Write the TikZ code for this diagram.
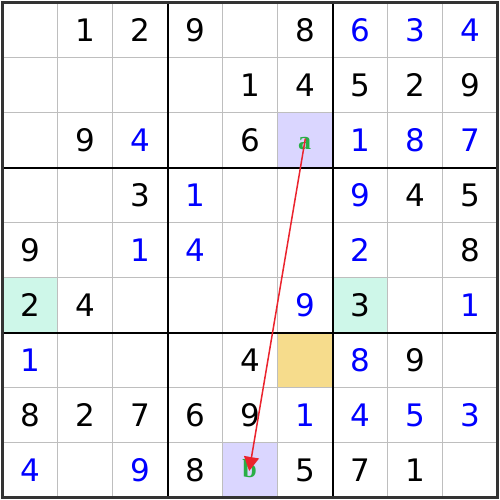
\documentclass[tikz,border=0pt]{standalone}
\usepackage{fontspec}
\setmainfont{DejaVu Sans}
\newfontfamily\letterfont{Liberation Serif}[BoldFont={Liberation Serif Bold}]
\usetikzlibrary{arrows.meta}
\definecolor{lav}{RGB}{218,214,255}
\definecolor{mint}{RGB}{206,247,233}
\definecolor{sand}{RGB}{246,220,140}
\definecolor{thin}{RGB}{190,190,190}
\definecolor{dblue}{RGB}{0,0,255}
\definecolor{lgreen}{RGB}{40,175,70}
\definecolor{arr}{RGB}{235,35,45}
\tikzset{
  given/.style={font=\fontsize{31}{31}\selectfont, text=black, inner sep=0pt},
  solved/.style={font=\fontsize{31}{31}\selectfont, text=dblue, inner sep=0pt},
  lab/.style={font=\fontsize{26}{26}\letterfont\bfseries, text=lgreen, inner sep=0pt},
  thinline/.style={draw=thin, line width=1.5pt},
  thickline/.style={draw=black, line width=2pt},
  link/.style={draw=arr, line width=1.5pt, -{Triangle[length=14pt,width=15pt]}},
}
\newcommand{\cellfill}[3]{\fill[#3] ({2.5+#2*55},{2.5+#1*55}) rectangle ++(55,55);}
\newcommand{\dig}[4]{\node[#4] (c-#1-#2) at ({2.5+#2*55+27.5},{2.5+#1*55+27.5}) {#3};}
\begin{document}
\begin{tikzpicture}[x=1pt,y=-1pt]
\useasboundingbox (0,0) rectangle (500,500);
\fill[white] (0,0) rectangle (500,500);
% highlighted cells
\cellfill{2}{5}{lav}
\cellfill{8}{4}{lav}
\cellfill{5}{0}{mint}
\cellfill{5}{6}{mint}
\cellfill{6}{5}{sand}
% thin grid
\foreach \i in {1,2,4,5,7,8} {
  \draw[thinline] ({2.5+\i*55},2.5) -- ({2.5+\i*55},497.5);
  \draw[thinline] (2.5,{2.5+\i*55}) -- (497.5,{2.5+\i*55});
}
\foreach \i in {3,6} {
  \draw[thickline] ({2.5+\i*55},2.5) -- ({2.5+\i*55},497.5);
  \draw[thickline] (2.5,{2.5+\i*55}) -- (497.5,{2.5+\i*55});
}
\draw[draw=black!80, line width=2.5pt] (2.5,2.5) rectangle (497.5,497.5);
% row 0
\dig{0}{1}{1}{given}\dig{0}{2}{2}{given}\dig{0}{3}{9}{given}\dig{0}{5}{8}{given}
\dig{0}{6}{6}{solved}\dig{0}{7}{3}{solved}\dig{0}{8}{4}{solved}
% row 1
\dig{1}{4}{1}{given}\dig{1}{5}{4}{given}\dig{1}{6}{5}{given}\dig{1}{7}{2}{given}\dig{1}{8}{9}{given}
% row 2
\dig{2}{1}{9}{given}\dig{2}{2}{4}{solved}\dig{2}{4}{6}{given}
\dig{2}{6}{1}{solved}\dig{2}{7}{8}{solved}\dig{2}{8}{7}{solved}
% row 3
\dig{3}{2}{3}{given}\dig{3}{3}{1}{solved}\dig{3}{6}{9}{solved}\dig{3}{7}{4}{given}\dig{3}{8}{5}{given}
% row 4
\dig{4}{0}{9}{given}\dig{4}{2}{1}{solved}\dig{4}{3}{4}{solved}\dig{4}{6}{2}{solved}\dig{4}{8}{8}{given}
% row 5
\dig{5}{0}{2}{given}\dig{5}{1}{4}{given}\dig{5}{5}{9}{solved}\dig{5}{6}{3}{given}\dig{5}{8}{1}{solved}
% row 6
\dig{6}{0}{1}{solved}\dig{6}{4}{4}{given}\dig{6}{6}{8}{solved}\dig{6}{7}{9}{given}
% row 7
\dig{7}{0}{8}{given}\dig{7}{1}{2}{given}\dig{7}{2}{7}{given}\dig{7}{3}{6}{given}\dig{7}{4}{9}{given}
\dig{7}{5}{1}{solved}\dig{7}{6}{4}{solved}\dig{7}{7}{5}{solved}\dig{7}{8}{3}{solved}
% row 8
\dig{8}{0}{4}{solved}\dig{8}{2}{9}{solved}\dig{8}{3}{8}{given}\dig{8}{5}{5}{given}\dig{8}{6}{7}{given}\dig{8}{7}{1}{given}
% labels
\node[lab] (a) at (304.5,143.5) {a};
\node[lab] (b) at (249.5,469) {b};
\draw[link, shorten <=-5pt, shorten >=-2pt] (a.center) -- (b.center);
\end{tikzpicture}
\end{document}
